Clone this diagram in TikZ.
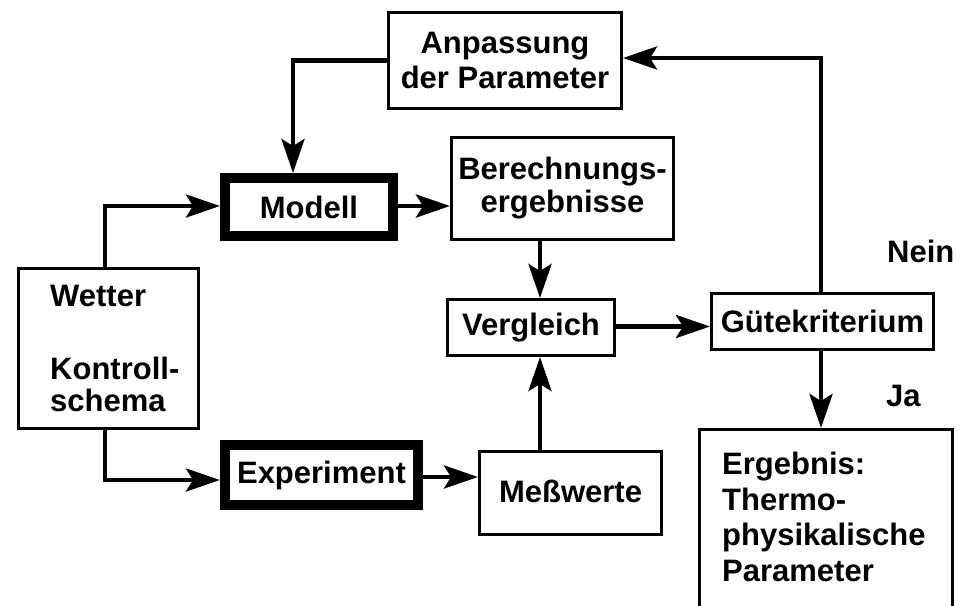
\documentclass[tikz,border=0pt]{standalone}
\usepackage{fontspec}
\setmainfont{Liberation Sans}
\usetikzlibrary{arrows.meta}
\newcommand{\boxfont}{\bfseries\fontsize{31}{35}\selectfont}
\begin{document}
\begin{tikzpicture}[x=1pt,y=-1pt,
  box/.style={draw, line width=3pt, inner sep=0pt, align=center, font=\boxfont},
  heavy/.style={box, line width=10pt},
  conn/.style={line width=4.5pt, -{Stealth[length=34pt,width=23pt,inset=7pt]}},
  lbl/.style={inner sep=0pt, align=left, font=\boxfont}]
\clip (0,0) rectangle (960,605);
\fill[white] (0,0) rectangle (960,605);

% boxes
\node[box, minimum width=233pt, minimum height=96pt] (anp) at (505,60.5) {Anpassung\\der Parameter};
\node[heavy, minimum width=168pt, minimum height=58pt] (mod) at (309,207) {Modell};
\node[box, minimum width=222pt, minimum height=102pt, font=\bfseries\fontsize{31}{33}\selectfont] (ber) at (562.5,188.5) {Berechnungs-\\ergebnisse};
\node[box, minimum width=180pt, minimum height=160pt] (wet) at (108.5,348.5) {};
\node[lbl, anchor=north west, font=\bfseries\fontsize{31}{32.5}\selectfont] (wettxt) at (50,285) {Wetter\\[40pt]Kontroll-\\schema};
\node[box, minimum width=167pt, minimum height=56pt] (vgl) at (531,327.5) {Vergleich};
\node[box, minimum width=222pt, minimum height=56pt] (gue) at (822.5,321.5) {Gütekriterium};
\node[heavy, minimum width=193pt, minimum height=60pt] (exp) at (321.5,475) {Experiment};
\node[box, minimum width=182pt, minimum height=83pt] (mes) at (570.5,493) {\raisebox{4pt}{Meßwerte}};
\node[box, minimum width=253pt, minimum height=209pt] (erg) at (826,534) {};
\node[lbl, anchor=north west, font=\bfseries\fontsize{31}{35.5}\selectfont] (ergtxt) at (722,452) {Ergebnis:\\Thermo-\\physikalische\\Parameter};

% decision labels
\node[lbl, anchor=base west] (nein) at (887,262) {Nein};
\node[lbl, anchor=base west] (ja) at (886,406) {Ja};

% connector columns
\coordinate (ca) at (293,0);
\coordinate (cw) at (105,0);
\coordinate (cv) at (540,0);

% connectors
\draw[conn] (anp.west) -| (ca |- mod.north);
\draw[conn] (cw |- wet.north) |- ([yshift=1pt]mod.west);
\draw[conn] ([yshift=1pt]mod.east) -- ([yshift=1pt]mod.east -| ber.west);
\draw[conn] (cv |- ber.south) -- (cv |- vgl.north);
\draw[conn] (cv |- mes.north) -- (cv |- vgl.south);
\draw[conn] ([yshift=1pt]vgl.east) -- ([yshift=1pt]vgl.east -| gue.west);
\draw[conn] ([xshift=-1.5pt]gue.north) |- ([yshift=2.5pt]anp.east);
\draw[conn] ([xshift=-1.5pt]gue.south) -- ([xshift=-1.5pt]gue.south |- erg.north);
\draw[conn] (cw |- wet.south) |- ([yshift=-5pt]exp.west);
\draw[conn] ([yshift=-2pt]exp.east) -- ([yshift=-2pt]exp.east -| mes.west);
\end{tikzpicture}
\end{document}
